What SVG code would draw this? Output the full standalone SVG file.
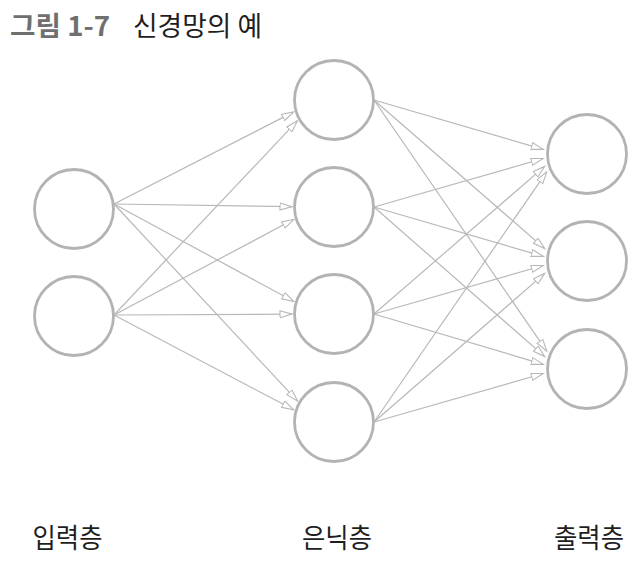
<svg xmlns="http://www.w3.org/2000/svg" width="644" height="564" viewBox="0 0 644 564">
<style>
.node{fill:#fff;stroke:#b3b3b3;stroke-width:2.8}
.edge{stroke:#b8b8b8;stroke-width:1.2;fill:none;marker-end:url(#arr)}
.t{font-family:"Noto Sans CJK KR","Noto Sans",sans-serif}
.lbl{font-size:27px;fill:#1e1e1e;text-anchor:middle}
</style>
<defs>
<marker id="arr" markerUnits="userSpaceOnUse" markerWidth="14" markerHeight="10" refX="12.5" refY="4" orient="auto">
<path d="M0.5,0.5 L12.5,4 L0.5,7.5 Z" fill="#fff" stroke="#b8b8b8" stroke-width="1.1"/>
</marker>
</defs>
<rect width="644" height="564" fill="#fff"/>
<g id="title" class="t">
<text x="10" y="36" font-size="27" font-weight="bold" fill="#6f6f6f" textLength="100" lengthAdjust="spacingAndGlyphs">그림 1-7</text>
<text x="133" y="36" font-size="27" fill="#1e1e1e" textLength="129" lengthAdjust="spacingAndGlyphs">신경망의 예</text>
</g>
<g id="connectors">
<line class="edge" x1="114" y1="204" x2="293.7" y2="111.9"/>
<line class="edge" x1="114" y1="204" x2="292" y2="206.6"/>
<line class="edge" x1="114" y1="204" x2="293.9" y2="301.5"/>
<line class="edge" x1="114" y1="204" x2="297.6" y2="401.1"/>
<line class="edge" x1="114" y1="315" x2="297.5" y2="120.7"/>
<line class="edge" x1="114" y1="315" x2="293.9" y2="219.3"/>
<line class="edge" x1="114" y1="315" x2="292" y2="314.1"/>
<line class="edge" x1="114" y1="315" x2="293.8" y2="409.8"/>
<line class="edge" x1="374" y1="100" x2="543.3" y2="149.4"/>
<line class="edge" x1="374" y1="100" x2="544.75" y2="248.6"/>
<line class="edge" x1="374" y1="100" x2="546.75" y2="351.2"/>
<line class="edge" x1="374" y1="207" x2="543.2" y2="158.5"/>
<line class="edge" x1="374" y1="207" x2="543.3" y2="256.4"/>
<line class="edge" x1="374" y1="207" x2="544.75" y2="356.6"/>
<line class="edge" x1="374" y1="314" x2="544.7" y2="166.4"/>
<line class="edge" x1="374" y1="314" x2="543.2" y2="265.5"/>
<line class="edge" x1="374" y1="314" x2="543.3" y2="364.4"/>
<line class="edge" x1="374" y1="422" x2="546.7" y2="171.8"/>
<line class="edge" x1="374" y1="422" x2="544.75" y2="273.4"/>
<line class="edge" x1="374" y1="422" x2="543.2" y2="373.5"/>
</g>
<g id="in1"><circle class="node" cx="74" cy="209" r="39.5"/></g>
<g id="in2"><circle class="node" cx="74" cy="316" r="39.5"/></g>
<g id="h1"><circle class="node" cx="334" cy="100" r="39.5"/></g>
<g id="h2"><circle class="node" cx="334" cy="207" r="39.5"/></g>
<g id="h3"><circle class="node" cx="334" cy="314" r="39.5"/></g>
<g id="h4"><circle class="node" cx="334" cy="422" r="39.5"/></g>
<g id="o1"><circle class="node" cx="587" cy="154" r="39.5"/></g>
<g id="o2"><circle class="node" cx="587" cy="261" r="39.5"/></g>
<g id="o3"><circle class="node" cx="587" cy="369" r="39.5"/></g>
<g id="labels" class="t">
<text class="lbl" x="67.5" y="548" textLength="70" lengthAdjust="spacingAndGlyphs">입력층</text>
<text class="lbl" x="337" y="548" textLength="70" lengthAdjust="spacingAndGlyphs">은닉층</text>
<text class="lbl" x="589" y="548" textLength="70" lengthAdjust="spacingAndGlyphs">출력층</text>
</g>
</svg>
